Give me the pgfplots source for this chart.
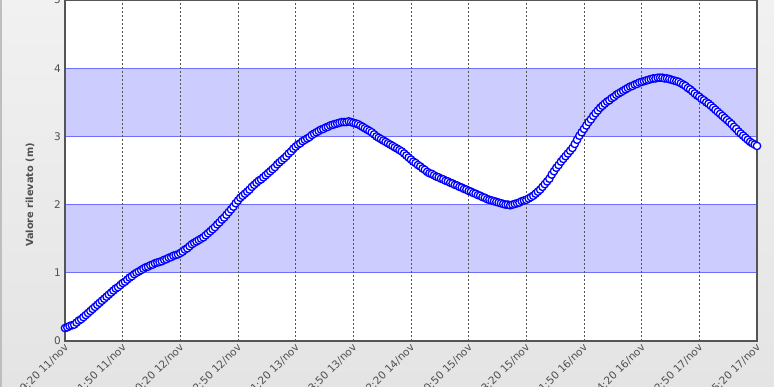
\documentclass[border=0pt]{standalone}
\usepackage{pgfplots}
\pgfplotsset{compat=1.18}
\usepackage{fontspec}
\setmainfont{DejaVu Sans}
\definecolor{txt}{HTML}{505050}
\definecolor{band}{HTML}{CCCCFF}
\definecolor{bandline}{HTML}{6E6EFF}
\definecolor{axisgray}{HTML}{555555}
\pgfplotsset{
  base/.style={
    at={(65pt,46pt)}, anchor=south west,
    scale only axis, width=692pt, height=341pt,
    xmin=0, xmax=150, ymin=0, ymax=5,
  }
}
\begin{document}
\begin{tikzpicture}
\clip (0pt,0pt) rectangle (774pt,387pt);
\shade[top color={rgb,255:red,241;green,241;blue,241}, bottom color={rgb,255:red,228;green,228;blue,228}] (0pt,0pt) rectangle (774pt,387pt);
\draw[color={rgb,255:red,190;green,190;blue,190}, line width=1.5pt] (1pt,0pt)--(1pt,387pt);
\begin{axis}[base, axis lines=none, ticks=none,
  axis background/.style={fill=white}]
\addplot[draw=none, fill=band] coordinates {(0,1) (150,1) (150,2) (0,2)} -- cycle;
\addplot[draw=none, fill=band] coordinates {(0,3) (150,3) (150,4) (0,4)} -- cycle;
\addplot[bandline, line width=1pt] coordinates {(0,1) (150,1)};
\addplot[bandline, line width=1pt] coordinates {(0,2) (150,2)};
\addplot[bandline, line width=1pt] coordinates {(0,3) (150,3)};
\addplot[bandline, line width=1pt] coordinates {(0,4) (150,4)};
\end{axis}
\begin{axis}[base, clip=false,
  /pgf/number format/assume math mode=true,
  axis line style={axisgray, line width=1.8pt},
  major tick length=0pt,
  xtick={0,12.5,25,37.5,50,62.5,75,87.5,100,112.5,125,137.5,150},
  xticklabels={09:20 11/nov,21:50 11/nov,10:20 12/nov,22:50 12/nov,11:20 13/nov,23:50 13/nov,12:20 14/nov,00:50 15/nov,13:20 15/nov,01:50 16/nov,14:20 16/nov,02:50 17/nov,15:20 17/nov},
  ytick={0,1,2,3,4,5},
  yticklabels={0,1,2,3,4,5},
  xmajorgrids,
  grid style={axisgray, line width=0.8pt, dash pattern=on 2pt off 2pt},
  x tick label style={rotate=45, anchor=east, font=\fontsize{10.5}{12}\selectfont, text=txt, inner sep=0.5pt, xshift=-1.5pt, yshift=-4.5pt},
  y tick label style={font=\fontsize{10.5}{12}\selectfont, text=txt, inner sep=1pt, xshift=-3pt},
]
\addplot[only marks, mark=*, mark size=3.7pt, mark options={draw=blue, fill=white, line width=1.3pt}] coordinates {
(0,0.19) (0.5,0.20) (1,0.22) (1.5,0.23) (2,0.24) (2.5,0.27) (3,0.30) (3.5,0.32) (4,0.35) (4.5,0.38)
(5,0.41) (5.5,0.44) (6,0.47) (6.5,0.50) (7,0.53) (7.5,0.56) (8,0.59) (8.5,0.62) (9,0.65) (9.5,0.68)
(10,0.71) (10.5,0.74) (11,0.77) (11.5,0.79) (12,0.82) (12.5,0.85) (13,0.87) (13.5,0.90) (14,0.93) (14.5,0.95)
(15,0.98) (15.5,1.00) (16,1.02) (16.5,1.04) (17,1.06) (17.5,1.08) (18,1.09) (18.5,1.11) (19,1.12) (19.5,1.14)
(20,1.15) (20.5,1.16) (21,1.17) (21.5,1.19) (22,1.20) (22.5,1.22) (23,1.23) (23.5,1.25) (24,1.26) (24.5,1.27)
(25,1.29) (25.5,1.31) (26,1.34) (26.5,1.36) (27,1.39) (27.5,1.42) (28,1.44) (28.5,1.46) (29,1.48) (29.5,1.50)
(30,1.52) (30.5,1.55) (31,1.58) (31.5,1.61) (32,1.64) (32.5,1.67) (33,1.71) (33.5,1.74) (34,1.78) (34.5,1.81)
(35,1.85) (35.5,1.89) (36,1.93) (36.5,1.97) (37,2.02) (37.5,2.06) (38,2.10) (38.5,2.13) (39,2.16) (39.5,2.19)
(40,2.22) (40.5,2.26) (41,2.29) (41.5,2.32) (42,2.35) (42.5,2.37) (43,2.40) (43.5,2.43) (44,2.46) (44.5,2.49)
(45,2.52) (45.5,2.55) (46,2.59) (46.5,2.62) (47,2.65) (47.5,2.68) (48,2.71) (48.5,2.75) (49,2.78) (49.5,2.82)
(50,2.85) (50.5,2.88) (51,2.90) (51.5,2.93) (52,2.95) (52.5,2.97) (53,2.99) (53.5,3.02) (54,3.04) (54.5,3.06)
(55,3.08) (55.5,3.10) (56,3.11) (56.5,3.13) (57,3.14) (57.5,3.16) (58,3.17) (58.5,3.18) (59,3.19) (59.5,3.20)
(60,3.21) (60.5,3.21) (61,3.21) (61.5,3.22) (62,3.21) (62.5,3.20) (63,3.19) (63.5,3.18) (64,3.16) (64.5,3.14)
(65,3.12) (65.5,3.10) (66,3.08) (66.5,3.06) (67,3.03) (67.5,3.00) (68,2.98) (68.5,2.96) (69,2.94) (69.5,2.92)
(70,2.90) (70.5,2.88) (71,2.86) (71.5,2.84) (72,2.82) (72.5,2.80) (73,2.78) (73.5,2.75) (74,2.72) (74.5,2.69)
(75,2.66) (75.5,2.63) (76,2.61) (76.5,2.58) (77,2.56) (77.5,2.53) (78,2.51) (78.5,2.48) (79,2.46) (79.5,2.45)
(80,2.43) (80.5,2.41) (81,2.40) (81.5,2.38) (82,2.37) (82.5,2.35) (83,2.34) (83.5,2.32) (84,2.31) (84.5,2.29)
(85,2.28) (85.5,2.26) (86,2.25) (86.5,2.23) (87,2.22) (87.5,2.20) (88,2.19) (88.5,2.17) (89,2.16) (89.5,2.14)
(90,2.13) (90.5,2.11) (91,2.10) (91.5,2.08) (92,2.07) (92.5,2.06) (93,2.05) (93.5,2.04) (94,2.03) (94.5,2.02)
(95,2.01) (95.5,2.00) (96,2.00) (96.5,1.99) (97,2.00) (97.5,2.01) (98,2.02) (98.5,2.03) (99,2.05) (99.5,2.06)
(100,2.07) (100.5,2.09) (101,2.11) (101.5,2.13) (102,2.16) (102.5,2.19) (103,2.22) (103.5,2.26) (104,2.30) (104.5,2.34)
(105,2.38) (105.5,2.44) (106,2.49) (106.5,2.54) (107,2.58) (107.5,2.63) (108,2.67) (108.5,2.71) (109,2.75) (109.5,2.79)
(110,2.83) (110.5,2.89) (111,2.95) (111.5,3.01) (112,3.06) (112.5,3.11) (113,3.16) (113.5,3.21) (114,3.25) (114.5,3.30)
(115,3.34) (115.5,3.38) (116,3.42) (116.5,3.45) (117,3.48) (117.5,3.51) (118,3.53) (118.5,3.56) (119,3.58) (119.5,3.61)
(120,3.63) (120.5,3.65) (121,3.67) (121.5,3.69) (122,3.71) (122.5,3.73) (123,3.74) (123.5,3.76) (124,3.77) (124.5,3.79)
(125,3.80) (125.5,3.81) (126,3.82) (126.5,3.83) (127,3.84) (127.5,3.85) (128,3.85) (128.5,3.86) (129,3.86) (129.5,3.86)
(130,3.85) (130.5,3.85) (131,3.84) (131.5,3.83) (132,3.82) (132.5,3.81) (133,3.80) (133.5,3.78) (134,3.76) (134.5,3.74)
(135,3.71) (135.5,3.69) (136,3.66) (136.5,3.63) (137,3.60) (137.5,3.58) (138,3.55) (138.5,3.53) (139,3.50) (139.5,3.48)
(140,3.45) (140.5,3.42) (141,3.39) (141.5,3.36) (142,3.33) (142.5,3.30) (143,3.27) (143.5,3.24) (144,3.21) (144.5,3.18)
(145,3.14) (145.5,3.11) (146,3.07) (146.5,3.04) (147,3.01) (147.5,2.98) (148,2.95) (148.5,2.92) (149,2.90) (149.5,2.88)
(150,2.86)
};
\end{axis}
\node[rotate=90, font=\bfseries\fontsize{9.8}{11}\selectfont, text=txt] at (30pt,192pt) {Valore rilevato (m)};
\end{tikzpicture}
\end{document}
